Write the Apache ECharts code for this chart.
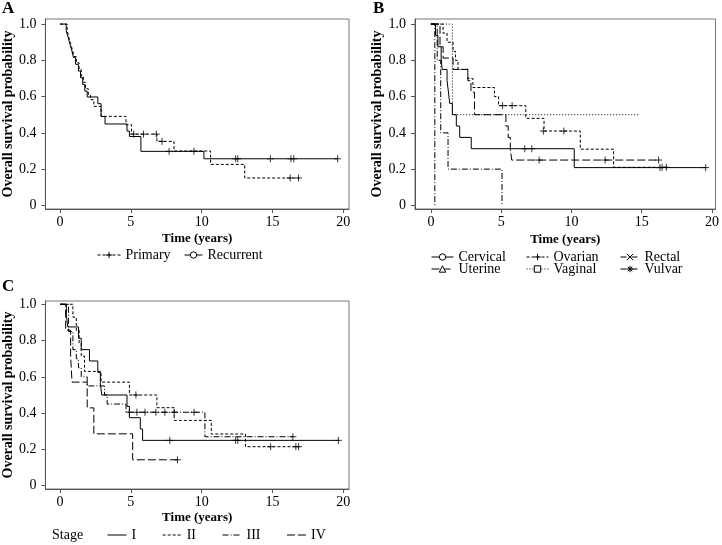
<!DOCTYPE html>
<html>
<head>
<meta charset="utf-8">
<script src="https://cdn.jsdelivr.net/npm/echarts@6/dist/echarts.min.js"></script>
<style>html,body{margin:0;padding:0;background:#fff;}#c{width:722px;height:545px;}</style>
</head>
<body>
<div id="c"></div>
<script>
// ---------- tick labels ----------
const xTicks = [0, 5, 10, 15, 20];
const yTicks = [0, 0.2, 0.4, 0.6, 0.8, 1.0];

// ---------- Panel A: Primary vs Recurrent ----------
const primaryCurve = [[0,1],[0.5,0.964],[0.62,0.929],[0.75,0.893],[0.88,0.857],[1.0,0.821],[1.15,0.786],[1.35,0.75],[1.5,0.714],[1.65,0.679],[1.8,0.643],[2.0,0.607],[2.15,0.583],[2.39,0.546],[2.9,0.491],[4.66,0.445],[5.05,0.393],[6.84,0.353],[8.05,0.30],[10.63,0.226],[13.04,0.151],[16.84,0.151]];
const primaryCensor = [[5.2,0.393],[5.9,0.393],[6.8,0.393],[7.2,0.353],[16.25,0.151],[16.84,0.151]];
const recurrentCurve = [[0,1],[0.44,0.963],[0.58,0.926],[0.7,0.889],[0.84,0.852],[0.95,0.815],[1.1,0.778],[1.3,0.741],[1.45,0.704],[1.6,0.667],[1.75,0.63],[1.92,0.598],[2.67,0.561],[2.9,0.49],[3.18,0.449],[4.73,0.41],[4.9,0.38],[5.71,0.298],[10.16,0.257],[19.6,0.257]];
const recurrentCensor = [[7.7,0.298],[9.45,0.298],[12.4,0.257],[12.55,0.257],[14.85,0.257],[16.3,0.257],[16.5,0.257],[19.6,0.257]];

// ---------- Panel B: tumour site ----------
const cervicalCurve = [[0,1],[0.33,0.9375],[0.5,0.875],[0.73,0.8125],[0.8,0.75],[1.15,0.6875],[1.25,0.625],[1.34,0.5625],[1.53,0.5],[1.81,0.4375],[2.05,0.375],[2.87,0.3125],[10.2,0.2083],[19.55,0.2083]];
const cervicalCensor = [[6.68,0.3125],[7.18,0.3125],[16.3,0.2083],[19.55,0.2083]];
const ovarianCurve = [[0,1],[0.87,0.95],[1.15,0.9],[1.58,0.85],[1.75,0.8],[1.93,0.75],[2.63,0.7],[2.99,0.65],[4.52,0.6],[4.82,0.55],[6.75,0.48],[8.05,0.41],[10.63,0.31],[13.0,0.21],[16.75,0.21]];
const ovarianCensor = [[5.1,0.55],[5.78,0.55],[8.0,0.41],[9.46,0.41],[16.45,0.21],[16.75,0.21]];
const rectalCurve = [[0,1],[0.45,0.8],[0.7,0.4],[1.22,0.2],[5.06,0]];
const uterineCurve = [[0,1],[0.65,0.875],[0.87,0.8125],[1.58,0.75],[2.63,0.6875],[2.85,0.625],[3.1,0.5],[5.34,0.4375],[5.5,0.375],[5.65,0.3125],[5.75,0.25],[16.2,0.25]];
const uterineCensor = [[7.7,0.25],[12.4,0.25],[16.2,0.25]];
const vaginalCurve = [[0,1],[1.53,0.5],[14.9,0.5]];
const vulvarCurve = [[0,1],[0.28,0]];

// ---------- Panel C: stage ----------
const stage1Curve = [[0,1],[0.45,0.9375],[0.55,0.875],[1.31,0.8125],[1.5,0.75],[2.08,0.6875],[2.67,0.625],[2.85,0.5625],[2.95,0.5],[4.73,0.4375],[4.9,0.375],[5.67,0.3125],[5.83,0.25],[19.65,0.25]];
const stage1Censor = [[7.75,0.25],[12.4,0.25],[12.55,0.25],[19.65,0.25]];
const stage2Curve = [[0,1],[0.91,0.929],[1.15,0.857],[1.35,0.786],[1.5,0.714],[1.73,0.63],[2.9,0.571],[4.9,0.5],[6.84,0.43],[8.06,0.36],[10.68,0.285],[13.09,0.215],[16.9,0.215]];
const stage2Censor = [[5.36,0.5],[14.87,0.215],[16.65,0.215],[16.84,0.215]];
const stage3Curve = [[0,1],[0.6,0.85],[0.91,0.75],[1.15,0.7],[1.3,0.65],[1.5,0.6],[1.92,0.55],[3.14,0.5],[3.33,0.45],[4.66,0.405],[10.23,0.27],[16.44,0.27]];
const stage3Censor = [[4.9,0.405],[5.43,0.405],[6.0,0.405],[6.77,0.405],[7.4,0.405],[8.06,0.405],[9.46,0.405],[16.44,0.27]];
const stage4Curve = [[0,1],[0.4,0.857],[0.75,0.714],[0.85,0.571],[1.92,0.429],[2.39,0.286],[5.13,0.143],[8.29,0.143]];
const stage4Censor = [[8.29,0.143]];

// ---------- styling helpers ----------
const FONT = '"Liberation Serif", "DejaVu Serif", serif';
const PLUS = 'path://M0,5L10,5M5,0L5,10';
const CROSS = 'path://M0,0L10,10M0,10L10,0';
const STAR = 'path://M0,5L10,5M5,0L5,10M1.5,1.5L8.5,8.5M1.5,8.5L8.5,1.5';
const SOLID = 'solid', SHORT = [3, 2], DOT = [1, 2], LONG = [8, 3], DASHDOT = [6, 2, 1, 2];

function km(name, data, dash, symbol, g) {
  return {
    type: 'line', name: name, data: data, step: 'end',
    xAxisIndex: g, yAxisIndex: g, showSymbol: false,
    symbol: symbol, symbolSize: 7, silent: true, animation: false,
    lineStyle: { color: '#000', width: 1, type: dash },
    itemStyle: { color: '#fff', borderColor: '#000', borderWidth: 1 }
  };
}
function cens(name, data, g) {
  return {
    type: 'scatter', name: name + ' (censored)', data: data,
    xAxisIndex: g, yAxisIndex: g, symbol: PLUS, symbolSize: 7,
    silent: true, animation: false, z: 3,
    itemStyle: { color: '#000', borderColor: '#000', borderWidth: 1 }
  };
}
function xAx(g, min, max, gap) {
  return {
    type: 'value', gridIndex: g, min: min, max: max,
    name: 'Time (years)', nameLocation: 'middle', nameGap: gap,
    nameTextStyle: { fontFamily: FONT, fontSize: 13, fontWeight: 'bold', color: '#000' },
    axisLine: { show: true, onZero: false, lineStyle: { color: '#555' } },
    axisTick: { show: true, length: 4, customValues: xTicks, lineStyle: { color: '#555' } },
    axisLabel: { customValues: xTicks, margin: 6, fontFamily: FONT, fontSize: 14, color: '#000' },
    splitLine: { show: false }
  };
}
function yAx(g, min, max) {
  return {
    type: 'value', gridIndex: g, min: min, max: max,
    name: 'Overall survival probability', nameLocation: 'middle', nameGap: 22,
    nameTextStyle: { fontFamily: FONT, fontSize: 14, fontWeight: 'bold', color: '#000' },
    axisLine: { show: true, onZero: false, lineStyle: { color: '#555' } },
    axisTick: { show: true, length: 4, customValues: yTicks, lineStyle: { color: '#555' } },
    axisLabel: { customValues: yTicks, margin: 9, fontFamily: FONT, fontSize: 14, color: '#000',
      formatter: function (v) { return v === 0 ? '0' : v.toFixed(1); } },
    splitLine: { show: false }
  };
}
function leg(names, left, top, w, gap, hideSymbol) {
  return {
    data: names, left: left, top: top, orient: 'horizontal', padding: 0,
    itemWidth: w, itemHeight: 8, itemGap: gap, selectedMode: false,
    textStyle: { fontFamily: FONT, fontSize: 14, color: '#000' },
    itemStyle: hideSymbol ? { opacity: 0 } : { borderWidth: 1 },
    lineStyle: { width: 1 }
  };
}

const chart = echarts.init(document.getElementById('c'), null, { renderer: 'canvas' });
chart.setOption({
  backgroundColor: '#fff',
  animation: false,
  title: [
    { text: 'A', left: 2, top: 0, padding: 0, textStyle: { fontFamily: FONT, fontSize: 17, fontWeight: 'bold', color: '#000' } },
    { text: 'B', left: 373, top: 0, padding: 0, textStyle: { fontFamily: FONT, fontSize: 17, fontWeight: 'bold', color: '#000' } },
    { text: 'C', left: 2, top: 278, padding: 0, textStyle: { fontFamily: FONT, fontSize: 17, fontWeight: 'bold', color: '#000' } },
    { text: 'Stage', left: 52, top: 528, padding: 0, textStyle: { fontFamily: FONT, fontSize: 14, fontWeight: 'normal', color: '#000' } }
  ],
  grid: [
    { left: 44, top: 19, width: 305, height: 190, show: true, borderColor: '#777', borderWidth: 1 },
    { left: 415, top: 19, width: 303, height: 190, show: true, borderColor: '#777', borderWidth: 1 },
    { left: 44, top: 301, width: 305, height: 188, show: true, borderColor: '#777', borderWidth: 1 }
  ],
  xAxis: [xAx(0, -1.03, 20.4, 23), xAx(1, -1.13, 20.25, 24), xAx(2, -1.03, 20.4, 22)],
  yAxis: [yAx(0, -0.02, 1.028), yAx(1, -0.02, 1.028), yAx(2, -0.018, 1.018)],
  legend: [
    leg(['Primary'], 97, 248, 23, 10, false),
    leg(['Recurrent'], 184, 248, 18, 10, false),
    leg(['Cervical'], 431, 250, 22, 10, false),
    leg(['Ovarian'], 526, 250, 22, 10, false),
    leg(['Rectal'], 620, 250, 19, 10, false),
    leg(['Uterine'], 431, 262, 22, 10, false),
    leg(['Vaginal'], 526, 262, 22, 10, false),
    leg(['Vulvar'], 620, 262, 19, 10, false),
    leg(['I', 'II', 'III', 'IV'], 107, 528, 19, 26, true)
  ],
  series: [
    km('Primary', primaryCurve, SHORT, PLUS, 0),
    cens('Primary', primaryCensor, 0),
    km('Recurrent', recurrentCurve, SOLID, 'circle', 0),
    cens('Recurrent', recurrentCensor, 0),

    km('Cervical', cervicalCurve, SOLID, 'circle', 1),
    cens('Cervical', cervicalCensor, 1),
    km('Ovarian', ovarianCurve, SHORT, PLUS, 1),
    cens('Ovarian', ovarianCensor, 1),
    km('Rectal', rectalCurve, DASHDOT, CROSS, 1),
    km('Uterine', uterineCurve, LONG, 'triangle', 1),
    cens('Uterine', uterineCensor, 1),
    km('Vaginal', vaginalCurve, DOT, 'rect', 1),
    km('Vulvar', vulvarCurve, DASHDOT, STAR, 1),

    km('I', stage1Curve, SOLID, 'circle', 2),
    cens('I', stage1Censor, 2),
    km('II', stage2Curve, SHORT, 'circle', 2),
    cens('II', stage2Censor, 2),
    km('III', stage3Curve, DASHDOT, 'circle', 2),
    cens('III', stage3Censor, 2),
    km('IV', stage4Curve, LONG, 'circle', 2),
    cens('IV', stage4Censor, 2)
  ]
});
</script>
</body>
</html>
